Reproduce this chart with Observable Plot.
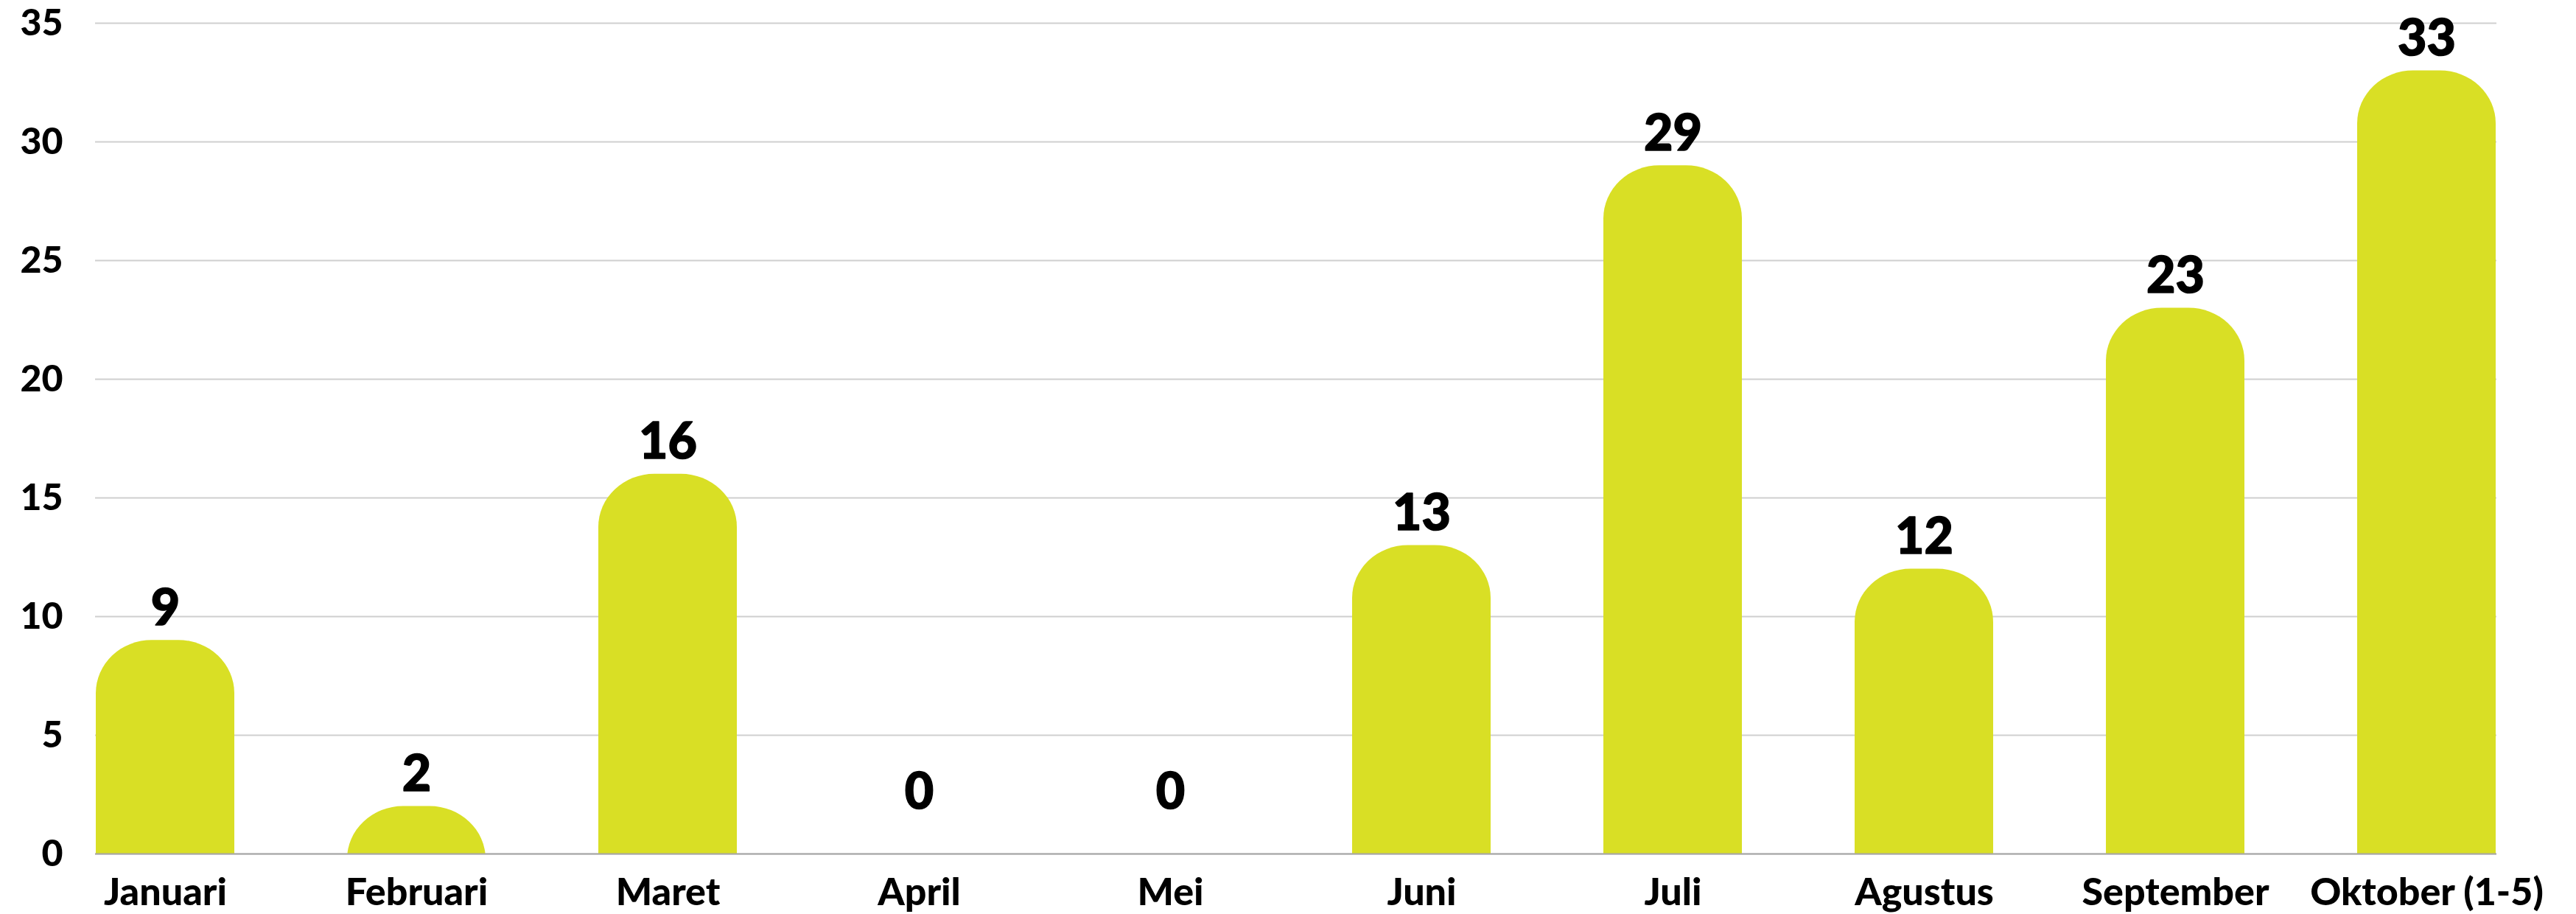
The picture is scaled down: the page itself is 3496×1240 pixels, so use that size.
<!DOCTYPE html>
<html>
<head>
<meta charset="utf-8">
<script src="https://cdn.jsdelivr.net/npm/d3@7"></script>
<script src="https://cdn.jsdelivr.net/npm/@observablehq/plot@0.6"></script>
<style>
  html, body { margin: 0; padding: 0; background: #ffffff; }
  #chart svg { display: block; }
</style>
</head>
<body>
<div id="chart"></div>
<script>
const months = ["Januari", "Februari", "Maret", "April", "Mei", "Juni", "Juli", "Agustus", "September", "Oktober (1-5)"];
const counts = [9, 2, 16, 0, 0, 13, 29, 12, 23, 33];
const yTicks = [0, 5, 10, 15, 20, 25, 30, 35];

const data = months.map((m, i) => ({month: m, value: counts[i]}));

const chart = Plot.plot({
  width: 3496,
  height: 1240,
  marginTop: 31,
  marginBottom: 82,
  marginLeft: 129,
  marginRight: 108,
  style: {fontFamily: "Lato, 'Open Sans', sans-serif", background: "#ffffff", color: "#000000"},
  x: {domain: months, paddingInner: 0.45, paddingOuter: 0, label: null},
  y: {domain: [0, 35], label: null},
  marks: [
    Plot.ruleY(yTicks, {stroke: "#cfcfcf", strokeWidth: 2}),
    Plot.barY(data, {x: "month", y: "value", fill: "#d9df25", rx: 76, ry: 72, insetBottom: -90, clip: true}),
    Plot.ruleY([0], {stroke: "#a6a6a6", strokeWidth: 2}),
    Plot.axisY({ticks: yTicks, tickSize: 0, tickPadding: 44, fontSize: 50, fontWeight: 900, label: null}),
    Plot.axisX({tickSize: 0, tickPadding: 33, fontSize: 52, fontWeight: 900, label: null}),
    Plot.text(data, {x: "month", y: d => Math.max(d.value, 1.25), text: d => String(d.value), lineAnchor: "bottom", dy: -21, fontSize: 68, fontWeight: 900, fill: "#000000", stroke: "#000000", strokeWidth: 1.5})
  ]
});

document.getElementById("chart").append(chart);
</script>
</body>
</html>
